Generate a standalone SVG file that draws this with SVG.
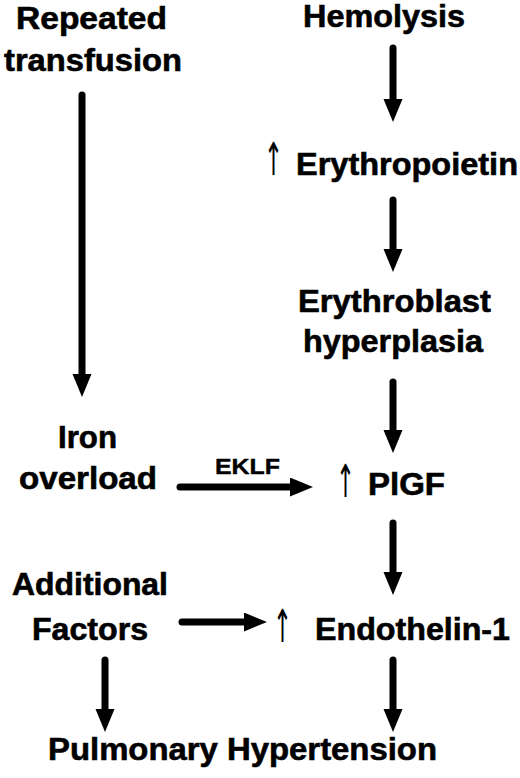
<svg xmlns="http://www.w3.org/2000/svg" width="520" height="778" viewBox="0 0 520 778">
<style>
.t{font-family:"Liberation Sans",Arial,sans-serif;font-weight:bold;font-size:31px;fill:#000;stroke:#000;stroke-width:0.6}
.s{font-family:"Liberation Sans",Arial,sans-serif;font-weight:bold;font-size:22px;fill:#000;stroke:#000;stroke-width:0.4}
.u{font-family:"DejaVu Sans",sans-serif;font-weight:normal;font-size:28px;fill:#000}
.c{stroke:#000;stroke-width:7;stroke-linecap:round;fill:none}
</style>
<defs>
<marker id="ah" markerUnits="userSpaceOnUse" markerWidth="24" markerHeight="20" refX="1" refY="9.5" orient="auto">
<path d="M0,0 L23,9.5 L0,19 Z" fill="#000"/>
</marker>
</defs>
<rect width="520" height="778" fill="#fff"/>
<g id="connectors">
<line class="c" x1="82" y1="95" x2="82" y2="375" marker-end="url(#ah)"/>
<line class="c" x1="393" y1="48" x2="393" y2="100" marker-end="url(#ah)"/>
<line class="c" x1="393" y1="200" x2="393" y2="250" marker-end="url(#ah)"/>
<line class="c" x1="393" y1="382" x2="393" y2="431" marker-end="url(#ah)"/>
<line class="c" x1="393" y1="523" x2="393" y2="573" marker-end="url(#ah)"/>
<line class="c" x1="393" y1="660" x2="393" y2="710" marker-end="url(#ah)"/>
<line class="c" x1="105" y1="660" x2="105" y2="710" marker-end="url(#ah)"/>
<line class="c" x1="180" y1="487" x2="291" y2="487" marker-end="url(#ah)"/>
<line class="c" x1="182" y1="622" x2="245" y2="622" marker-end="url(#ah)"/>
<text class="s" x="215" y="474" textLength="65" lengthAdjust="spacingAndGlyphs">EKLF</text>
</g>
<g id="node-transfusion">
<text class="t" x="16" y="29" textLength="151" lengthAdjust="spacingAndGlyphs">Repeated</text>
<text class="t" x="4" y="71" textLength="178" lengthAdjust="spacingAndGlyphs">transfusion</text>
</g>
<g id="node-hemolysis">
<text class="t" x="303" y="27" textLength="162" lengthAdjust="spacingAndGlyphs">Hemolysis</text>
</g>
<g id="node-erythropoietin">
<text class="u" transform="translate(264,175) scale(1,1.62)" x="0" y="0" textLength="19" lengthAdjust="spacingAndGlyphs">↑</text>
<text class="t" x="296" y="175" textLength="222" lengthAdjust="spacingAndGlyphs">Erythropoietin</text>
</g>
<g id="node-erythroblast">
<text class="t" x="298" y="312" textLength="193" lengthAdjust="spacingAndGlyphs">Erythroblast</text>
<text class="t" x="303" y="352" textLength="180" lengthAdjust="spacingAndGlyphs">hyperplasia</text>
</g>
<g id="node-iron">
<text class="t" x="58" y="448" textLength="59" lengthAdjust="spacingAndGlyphs">Iron</text>
<text class="t" x="19" y="489" textLength="138" lengthAdjust="spacingAndGlyphs">overload</text>
</g>
<g id="node-plgf">
<text class="u" transform="translate(336,497) scale(1,1.62)" x="0" y="0" textLength="19" lengthAdjust="spacingAndGlyphs">↑</text>
<text class="t" x="368" y="495" textLength="77" lengthAdjust="spacingAndGlyphs">PlGF</text>
</g>
<g id="node-additional">
<text class="t" x="12" y="595" textLength="156" lengthAdjust="spacingAndGlyphs">Additional</text>
<text class="t" x="32" y="640" textLength="116" lengthAdjust="spacingAndGlyphs">Factors</text>
</g>
<g id="node-endothelin">
<text class="u" transform="translate(273,642) scale(1,1.62)" x="0" y="0" textLength="19" lengthAdjust="spacingAndGlyphs">↑</text>
<text class="t" x="315" y="640" textLength="195" lengthAdjust="spacingAndGlyphs">Endothelin-1</text>
</g>
<g id="node-ph">
<text class="t" x="48" y="760" textLength="389" lengthAdjust="spacingAndGlyphs">Pulmonary Hypertension</text>
</g>
</svg>
